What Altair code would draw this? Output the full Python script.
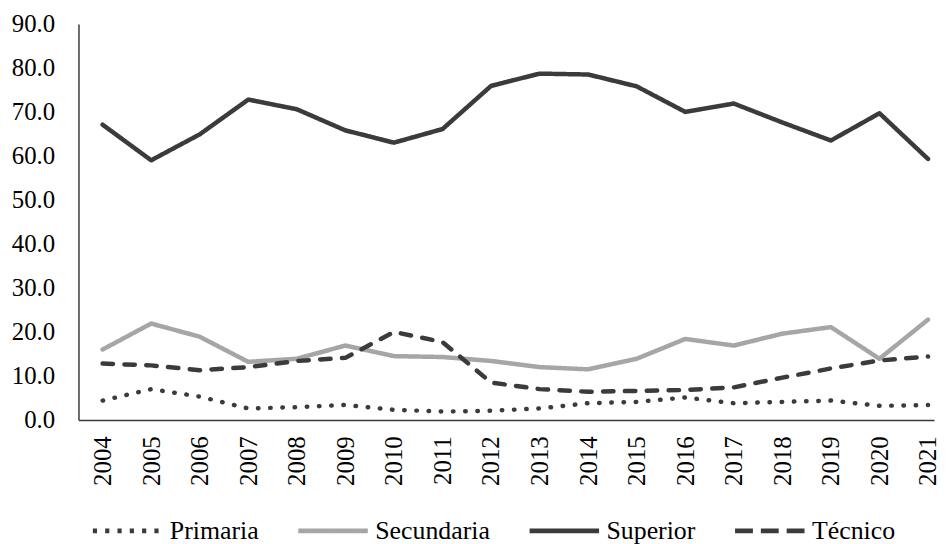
import altair as alt
import pandas as pd

years = list(range(2004, 2022))
primaria = [4.4, 7.0, 5.3, 2.6, 2.9, 3.4, 2.3, 1.9, 2.1, 2.6, 3.8, 4.1, 5.1, 3.8, 4.1, 4.4, 3.2, 3.4]
secundaria = [16.0, 21.9, 18.9, 13.2, 13.9, 16.9, 14.5, 14.3, 13.4, 12.0, 11.5, 13.9, 18.4, 16.9, 19.6, 21.1, 13.9, 22.8]
superior = [67.1, 59.0, 64.9, 72.8, 70.6, 65.8, 63.0, 66.1, 75.9, 78.7, 78.5, 75.8, 70.0, 71.9, 67.6, 63.5, 69.7, 59.3]
tecnico = [12.8, 12.4, 11.3, 12.0, 13.4, 14.1, 20.0, 17.7, 8.5, 7.0, 6.4, 6.6, 6.8, 7.4, 9.6, 11.7, 13.5, 14.4]

series_names = ["Primaria", "Secundaria", "Superior", "Técnico"]
series_values = [primaria, secundaria, superior, tecnico]
series_colors = ["#3b3b3b", "#a6a6a6", "#3b3b3b", "#3b3b3b"]
series_dashes = [[0.5, 11.8], [1, 0], [1, 0], [10.5, 11.5]]
legend_dashes = [[4.2, 8.2], [1, 0], [1, 0], [18, 8]]
y_ticks = [0, 10, 20, 30, 40, 50, 60, 70, 80, 90]

rows = []
for name, vals in zip(series_names, series_values):
    for yr, v in zip(years, vals):
        rows.append({"Año": yr, "Valor": v, "Serie": name})
df = pd.DataFrame(rows)

FONT = "Liberation Serif"

legend = alt.Legend(
    title=None,
    orient="none",
    direction="horizontal",
    legendX=12,
    legendY=473,
    symbolType="stroke",
    symbolSize=4900,
    symbolStrokeWidth=4.8,
    symbolOpacity=1,
    labelFont=FONT,
    labelFontSize=26,
    labelColor="black",
    labelOffset=5,
    columnPadding=29,
)

x_enc = alt.X(
    "Año:Q",
    scale=alt.Scale(domain=[2003.503, 2021.124], nice=False, zero=False),
    axis=alt.Axis(
        values=years,
        format="d",
        labelAngle=270,
        title=None,
        ticks=False,
        grid=False,
        labelPadding=16,
        labelFlush=False,
        labelOverlap=False,
    ),
)
y_enc = alt.Y(
    "Valor:Q",
    scale=alt.Scale(domain=[0, 90], nice=False),
    axis=alt.Axis(
        values=y_ticks,
        format=".1f",
        title=None,
        ticks=False,
        grid=False,
        labelPadding=24,
        labelOverlap=False,
    ),
)

lines = (
    alt.Chart(df)
    .mark_line(strokeWidth=4.5, strokeCap="round", strokeJoin="round")
    .encode(
        x=x_enc,
        y=y_enc,
        color=alt.Color(
            "Serie:N",
            scale=alt.Scale(domain=series_names, range=series_colors),
            legend=None,
        ),
        strokeDash=alt.StrokeDash(
            "Serie:N",
            scale=alt.Scale(domain=series_names, range=series_dashes),
            legend=None,
        ),
    )
)

legend_layer = (
    alt.Chart(df)
    .mark_line(strokeWidth=4.8, opacity=0)
    .encode(
        x=x_enc,
        y=y_enc,
        color=alt.Color(
            "Serie:N",
            scale=alt.Scale(domain=series_names, range=series_colors),
            legend=legend,
        ),
        strokeDash=alt.StrokeDash(
            "Serie:N",
            scale=alt.Scale(domain=series_names, range=legend_dashes),
            legend=legend,
        ),
    )
)

chart = (
    alt.layer(lines, legend_layer)
    .resolve_scale(color="independent", strokeDash="independent")
    .properties(width=862, height=399, padding={"left": 3, "top": 2, "right": 0, "bottom": 0})
    .configure(background="white", font=FONT)
    .configure_view(stroke=None)
    .configure_axis(
        labelFont=FONT,
        labelFontSize=25,
        labelColor="black",
        domainColor="#3b3b3b",
        domainWidth=1.5,
    )
    .configure_legend(labelFont=FONT, labelFontSize=26, labelColor="black")
)

chart.save("out.html", embed_options={"renderer": "svg", "actions": False})
